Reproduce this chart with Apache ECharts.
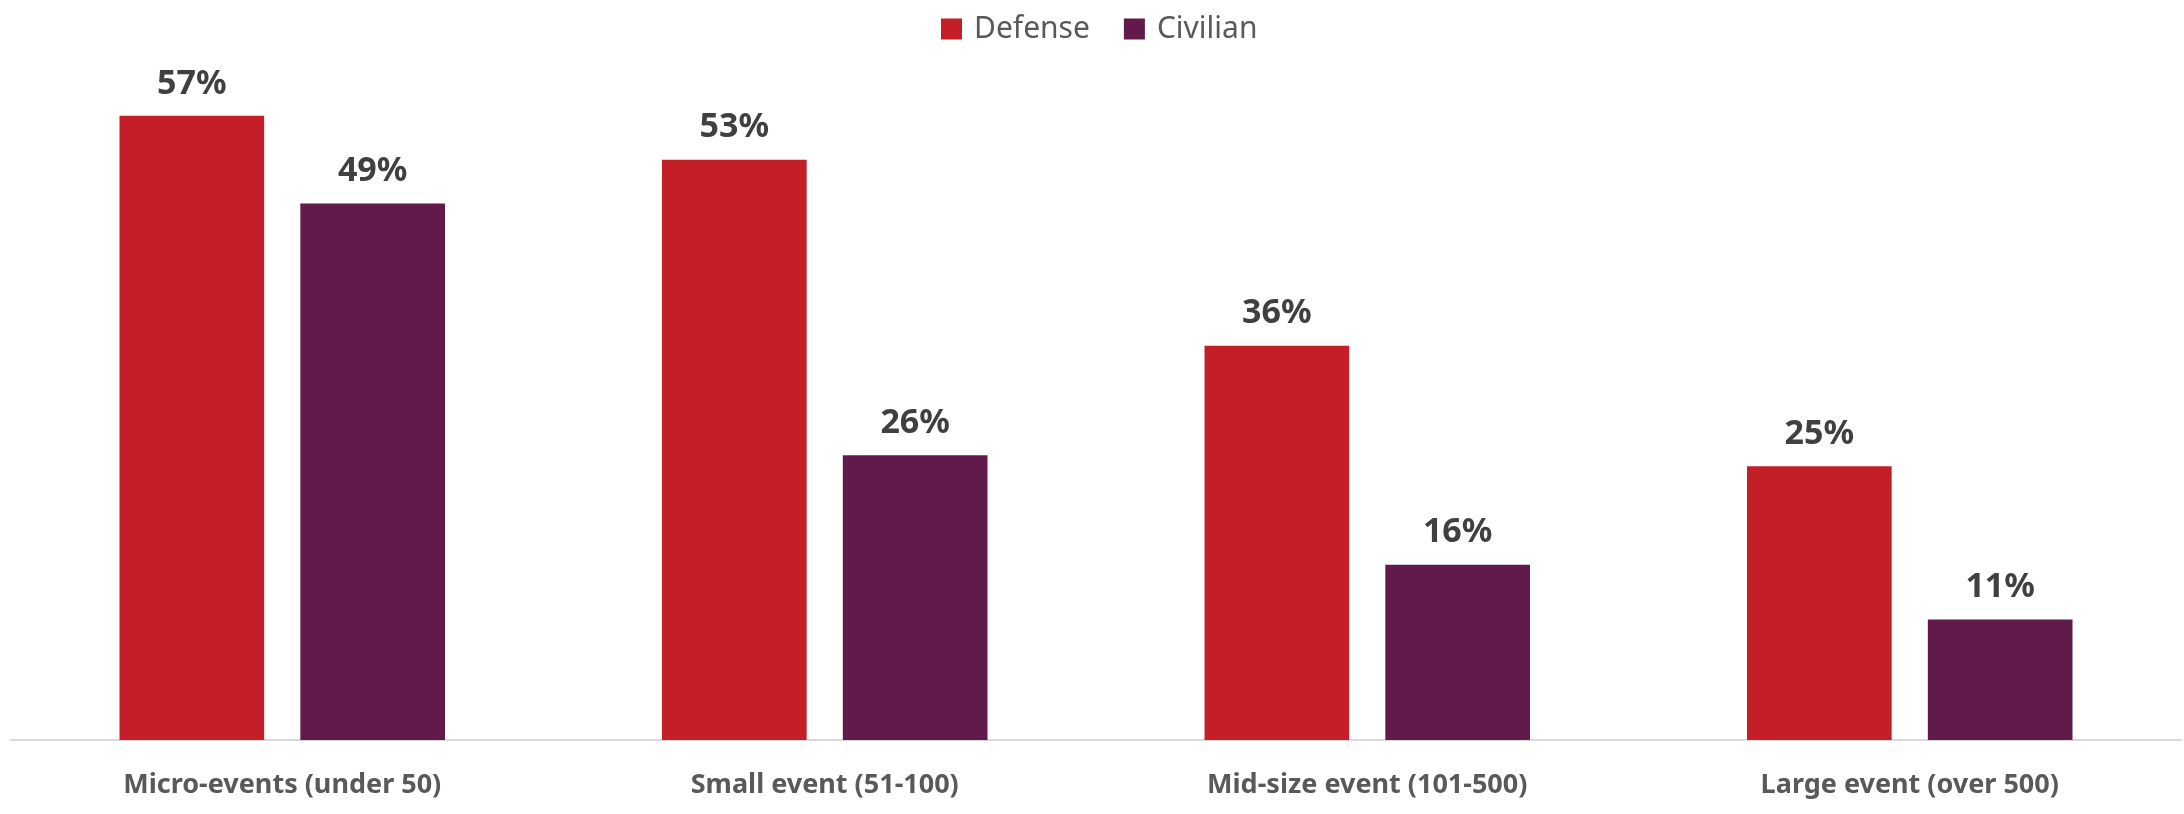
<!DOCTYPE html>
<html>
<head>
<meta charset="utf-8">
<script src="https://cdn.jsdelivr.net/npm/echarts@6/dist/echarts.min.js"></script>
<style>
  html, body { margin: 0; padding: 0; background: #ffffff; }
  #chart { width: 2184px; height: 814px; }
</style>
</head>
<body>
<div id="chart"></div>
<script>
// Event-size categories along the x axis
const categories = [
  'Micro-events (under 50)',
  'Small event (51-100)',
  'Mid-size event (101-500)',
  'Large event (over 500)'
];

// Share of respondents per group, in percent
const defenseValues = [57, 53, 36, 25];
const civilianValues = [49, 26, 16, 11];

const seriesNames = ['Defense', 'Civilian'];

const RED = '#C41E26';
const PURPLE = '#621A4A';

const chart = echarts.init(document.getElementById('chart'), null, { renderer: 'canvas' });

const valueLabel = {
  show: true,
  position: 'top',
  distance: 15,
  formatter: '{c}%',
  color: '#404040',
  fontFamily: '"Noto Sans", "Open Sans", sans-serif',
  fontWeight: 'bold',
  fontSize: 34
};

chart.setOption({
  animation: false,
  backgroundColor: '#ffffff',
  legend: {
    top: 9,
    left: 936,
    itemWidth: 21,
    itemHeight: 21,
    itemGap: 34,
    icon: 'rect',
    data: seriesNames,
    textStyle: {
      color: '#595959',
      fontFamily: '"Noto Sans", sans-serif',
      fontSize: 30,
      padding: [0, 0, 0, 7]
    }
  },
  grid: {
    left: 11,
    right: 3,
    top: 83,
    bottom: 74,
    containLabel: false
  },
  xAxis: {
    type: 'category',
    data: categories,
    axisLine: { show: true, lineStyle: { color: '#D9D9D9', width: 2 } },
    axisTick: { show: false },
    axisLabel: {
      margin: 32,
      color: '#595959',
      fontFamily: '"Noto Sans", sans-serif',
      fontWeight: 'bold',
      fontSize: 27
    }
  },
  yAxis: {
    type: 'value',
    min: 0,
    max: 60,
    interval: 10,
    show: false,
    splitLine: { show: false }
  },
  series: [
    {
      name: seriesNames[0],
      type: 'bar',
      data: defenseValues,
      barGap: '25%',
      barCategoryGap: '40%',
      itemStyle: { color: RED },
      label: valueLabel
    },
    {
      name: seriesNames[1],
      type: 'bar',
      data: civilianValues,
      itemStyle: { color: PURPLE },
      label: valueLabel
    }
  ]
});
</script>
</body>
</html>
